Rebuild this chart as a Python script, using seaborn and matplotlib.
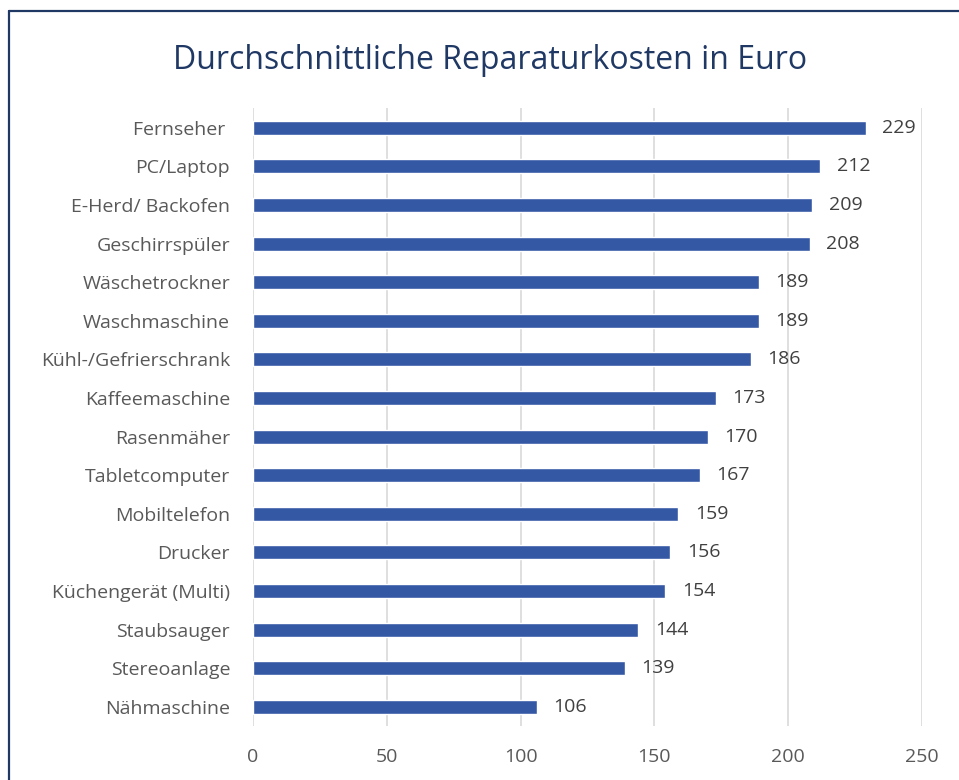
import matplotlib.pyplot as plt
import pandas as pd
import seaborn as sns
from matplotlib.lines import Line2D

geraete = ["Fernseher ", "PC/Laptop", "E-Herd/ Backofen", "Geschirrspüler",
           "Wäschetrockner", "Waschmaschine", "Kühl-/Gefrierschrank",
           "Kaffeemaschine", "Rasenmäher", "Tabletcomputer", "Mobiltelefon",
           "Drucker", "Küchengerät (Multi)", "Staubsauger", "Stereoanlage",
           "Nähmaschine"]
kosten = [229, 212, 209, 208, 189, 189, 186, 173, 170, 167, 159, 156, 154,
          144, 139, 106]
xticks = [0, 50, 100, 150, 200, 250]

df = pd.DataFrame({"geraet": geraete, "kosten": kosten})

sns.set_style("white")
plt.rcParams["font.family"] = ["Open Sans", "DejaVu Sans"]

fig = plt.figure(figsize=(9.59, 7.8), dpi=100)
ax = fig.add_axes([0.2638, 0.069, 0.6976, 0.792])

sns.barplot(data=df, x="kosten", y="geraet", orient="h", color="#3558A5",
            width=0.36, saturation=1, ax=ax)

ax.set_xlim(0, 250)
ax.set_xticks(xticks)
ax.xaxis.grid(True, color="#D9D9D9", linewidth=1.2)
ax.set_axisbelow(True)
for s in ax.spines.values():
    s.set_visible(False)
ax.tick_params(axis="both", length=0, labelsize=14, colors="#595959")
ax.tick_params(axis="x", pad=16)
ax.tick_params(axis="y", pad=16.5)
ax.set_xlabel("")
ax.set_ylabel("")

ax.bar_label(ax.containers[0], padding=12, fontsize=14, color="#404040")

fig.text(0.511, 0.922, "Durchschnittliche Reparaturkosten in Euro",
         ha="center", va="center", fontsize=23, color="#1F3864")

# Rahmen (nur links und oben sichtbar)
fig.add_artist(Line2D([9 / 959, 9 / 959], [0, 1 - 11 / 780], color="#1F3864",
                      linewidth=1.6, transform=fig.transFigure))
fig.add_artist(Line2D([9 / 959, 1], [1 - 11 / 780, 1 - 11 / 780], color="#1F3864",
                      linewidth=1.6, transform=fig.transFigure))

fig.savefig("out.png", dpi=100, facecolor="white")
